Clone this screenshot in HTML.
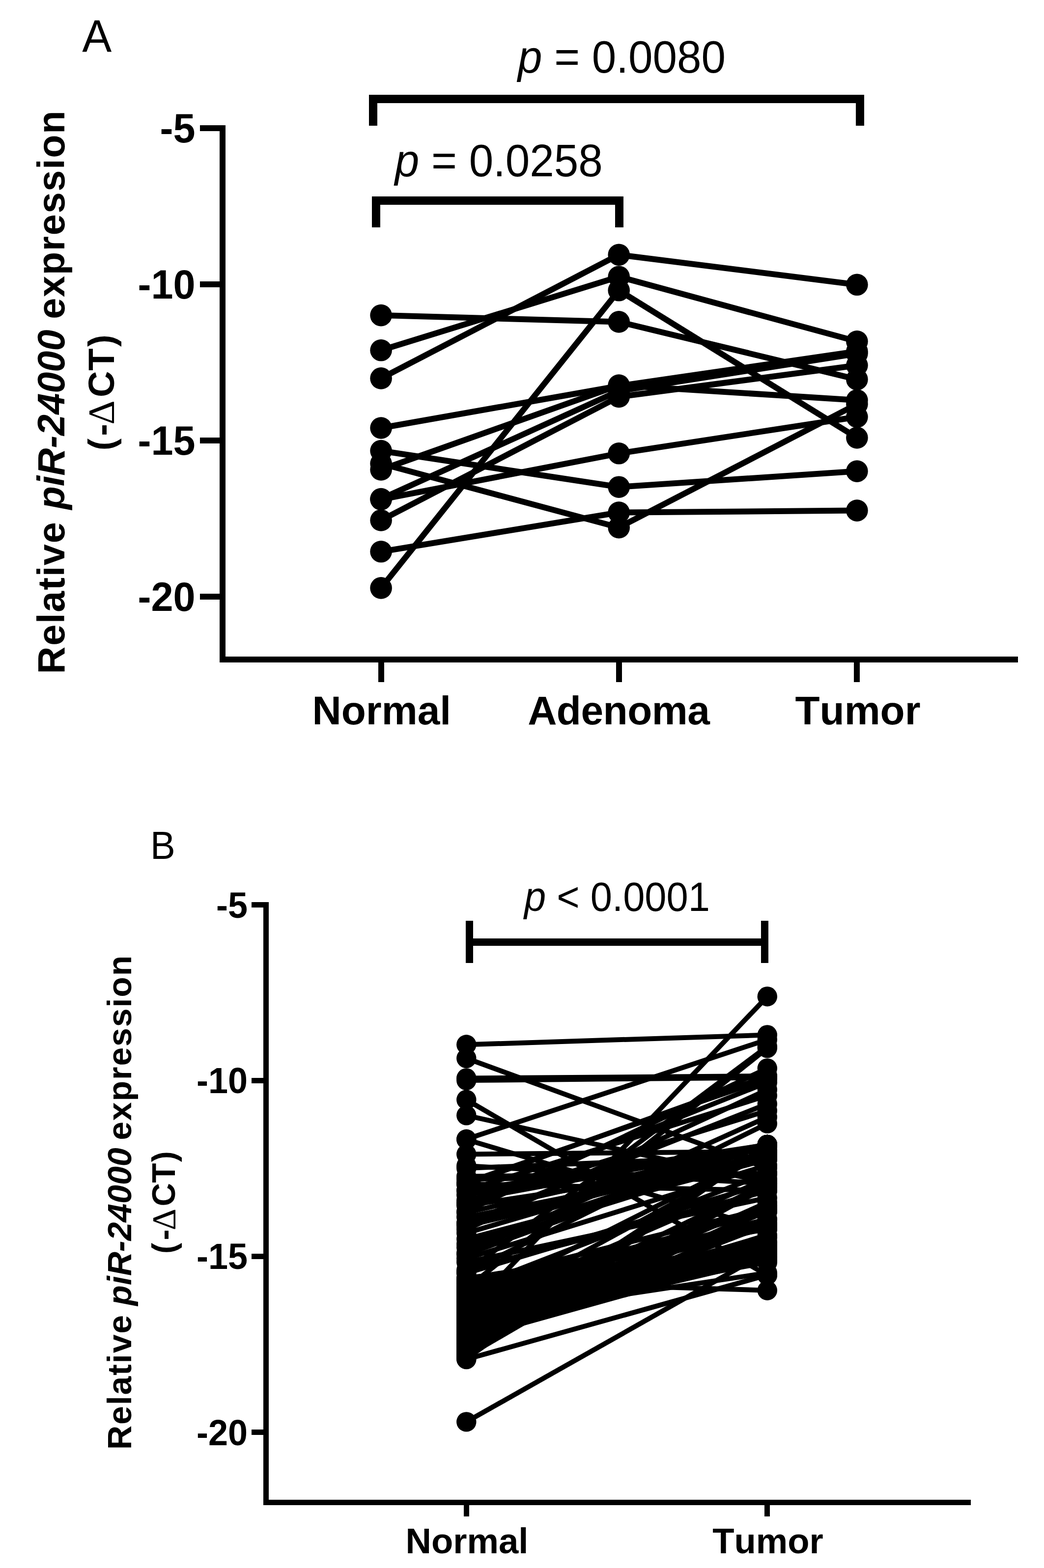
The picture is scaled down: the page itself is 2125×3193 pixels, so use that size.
<!DOCTYPE html>
<html lang="en">
<head>
<meta charset="utf-8">
<title>Relative piR-24000 expression</title>
<style>
html,body{margin:0;padding:0;background:#fff;}
body{width:2125px;height:3193px;overflow:hidden;}
svg{display:block;font-family:"Liberation Sans", Arial, Helvetica, sans-serif;fill:#000;font-kerning:none;font-variant-ligatures:none;}
</style>
</head>
<body>
<svg width="2125" height="3193" viewBox="0 0 2125 3193">
<rect x="0" y="0" width="2125" height="3193" fill="#fff"/>
<g id="panelA">
<rect x="447.00" y="255.00" width="12.00" height="1093.70" shape-rendering="crispEdges"/>
<rect x="447.00" y="1336.70" width="1625.00" height="12.00" shape-rendering="crispEdges"/>
<rect x="407.00" y="255.00" width="41.00" height="12.00" shape-rendering="crispEdges"/>
<rect x="407.00" y="573.00" width="41.00" height="12.00" shape-rendering="crispEdges"/>
<rect x="407.00" y="891.00" width="41.00" height="12.00" shape-rendering="crispEdges"/>
<rect x="407.00" y="1209.00" width="41.00" height="12.00" shape-rendering="crispEdges"/>
<rect x="770.00" y="1348.00" width="12.00" height="41.00" shape-rendering="crispEdges"/>
<rect x="1254.00" y="1348.00" width="12.00" height="41.00" shape-rendering="crispEdges"/>
<rect x="1738.00" y="1348.00" width="12.00" height="41.00" shape-rendering="crispEdges"/>
<text transform="translate(397.50,290.40) scale(1,1.04)" font-size="81" font-weight="bold" text-anchor="end">-5</text>
<text transform="translate(397.50,608.40) scale(1,1.04)" font-size="81" font-weight="bold" text-anchor="end">-10</text>
<text transform="translate(397.50,926.40) scale(1,1.04)" font-size="81" font-weight="bold" text-anchor="end">-15</text>
<text transform="translate(397.50,1244.40) scale(1,1.04)" font-size="81" font-weight="bold" text-anchor="end">-20</text>
<text x="776.80" y="1475.00" font-size="82" font-weight="bold" text-anchor="middle">Normal</text>
<text x="1259.20" y="1475.00" font-size="82" font-weight="bold" text-anchor="middle" letter-spacing="-0.5">Adenoma</text>
<text x="1746.00" y="1475.00" font-size="82" font-weight="bold" text-anchor="middle">Tumor</text>
<rect x="751.00" y="193.00" width="1008.00" height="17.00" shape-rendering="crispEdges"/>
<rect x="751.00" y="193.00" width="17.00" height="62.60" shape-rendering="crispEdges"/>
<rect x="1742.00" y="193.00" width="17.00" height="62.60" shape-rendering="crispEdges"/>
<rect x="757.00" y="400.00" width="512.00" height="17.00" shape-rendering="crispEdges"/>
<rect x="757.00" y="400.00" width="17.00" height="62.70" shape-rendering="crispEdges"/>
<rect x="1252.00" y="400.00" width="17.00" height="62.70" shape-rendering="crispEdges"/>
<text transform="translate(1477.00,147.50) scale(1,1.04)" font-size="89" font-weight="normal" text-anchor="end"><tspan font-style="italic">p</tspan> = 0.0080</text>
<text transform="translate(1226.80,359.00) scale(1,1.04)" font-size="89" font-weight="normal" text-anchor="end"><tspan font-style="italic">p</tspan> = 0.0258</text>
<text transform="translate(197.30,106.30) scale(1,1.04)" font-size="90" font-weight="normal" text-anchor="middle">A</text>
<g transform="translate(131,0) rotate(-90)" font-size="77.5" font-weight="bold">
<text x="-1372.38" y="0" letter-spacing="1.7">Relative</text>
<text x="-1037.60" y="0" font-style="italic">piR-24000</text>
<text x="-649.83" y="0" letter-spacing="1.7">expression</text>
</g>
<g transform="translate(232.2,0) rotate(-90)" font-size="74" font-weight="bold">
<text y="0"><tspan x="-917.49">(</tspan><tspan x="-887.79">-</tspan><tspan x="-864.73" font-family="'Liberation Serif', 'DejaVu Serif', serif" font-weight="normal" font-size="77">&#916;</tspan><tspan x="-808.94">C</tspan><tspan x="-754.83">T</tspan><tspan x="-705.97">)</tspan></text>
</g>
<g stroke="#000" stroke-width="12" fill="none" stroke-linecap="butt">
<polyline points="775.6,642.1 1259.7,655.4 1744.4,772.6"/>
<polyline points="775.6,713.3 1259.7,563.5 1744.4,695.3"/>
<polyline points="775.6,770.4 1259.7,518.8 1744.4,579.8"/>
<polyline points="775.6,871.5 1259.7,786.0 1744.4,715.5"/>
<polyline points="775.6,918.0 1259.7,991.7 1744.4,959.6"/>
<polyline points="775.6,944.0 1259.7,1074.2 1744.4,823.0"/>
<polyline points="775.6,956.5 1259.7,784.5 1744.4,815.0"/>
<polyline points="775.6,1016.0 1259.7,796.0 1744.4,720.0"/>
<polyline points="775.6,1017.0 1259.7,923.3 1744.4,849.0"/>
<polyline points="775.6,1059.5 1259.7,808.0 1744.4,744.0"/>
<polyline points="775.6,1123.3 1259.7,1043.6 1744.4,1039.6"/>
<polyline points="775.6,1197.4 1259.7,591.3 1744.4,891.4"/>
</g>
<circle cx="775.6" cy="642.1" r="22.3"/>
<circle cx="1259.7" cy="655.4" r="22.3"/>
<circle cx="1744.4" cy="772.6" r="22.3"/>
<circle cx="775.6" cy="713.3" r="22.3"/>
<circle cx="1259.7" cy="563.5" r="22.3"/>
<circle cx="1744.4" cy="695.3" r="22.3"/>
<circle cx="775.6" cy="770.4" r="22.3"/>
<circle cx="1259.7" cy="518.8" r="22.3"/>
<circle cx="1744.4" cy="579.8" r="22.3"/>
<circle cx="775.6" cy="871.5" r="22.3"/>
<circle cx="1259.7" cy="786.0" r="22.3"/>
<circle cx="1744.4" cy="715.5" r="22.3"/>
<circle cx="775.6" cy="918.0" r="22.3"/>
<circle cx="1259.7" cy="991.7" r="22.3"/>
<circle cx="1744.4" cy="959.6" r="22.3"/>
<circle cx="775.6" cy="944.0" r="22.3"/>
<circle cx="1259.7" cy="1074.2" r="22.3"/>
<circle cx="1744.4" cy="823.0" r="22.3"/>
<circle cx="775.6" cy="956.5" r="22.3"/>
<circle cx="1259.7" cy="784.5" r="22.3"/>
<circle cx="1744.4" cy="815.0" r="22.3"/>
<circle cx="775.6" cy="1016.0" r="22.3"/>
<circle cx="1259.7" cy="796.0" r="22.3"/>
<circle cx="1744.4" cy="720.0" r="22.3"/>
<circle cx="775.6" cy="1017.0" r="22.3"/>
<circle cx="1259.7" cy="923.3" r="22.3"/>
<circle cx="1744.4" cy="849.0" r="22.3"/>
<circle cx="775.6" cy="1059.5" r="22.3"/>
<circle cx="1259.7" cy="808.0" r="22.3"/>
<circle cx="1744.4" cy="744.0" r="22.3"/>
<circle cx="775.6" cy="1123.3" r="22.3"/>
<circle cx="1259.7" cy="1043.6" r="22.3"/>
<circle cx="1744.4" cy="1039.6" r="22.3"/>
<circle cx="775.6" cy="1197.4" r="22.3"/>
<circle cx="1259.7" cy="591.3" r="22.3"/>
<circle cx="1744.4" cy="891.4" r="22.3"/>
</g>
<g id="panelB">
<rect x="536.00" y="1837.00" width="11.00" height="1227.80" shape-rendering="crispEdges"/>
<rect x="536.00" y="3054.00" width="1440.00" height="10.80" shape-rendering="crispEdges"/>
<rect x="512.00" y="1837.00" width="25.00" height="11.00" shape-rendering="crispEdges"/>
<rect x="512.00" y="2194.90" width="25.00" height="11.00" shape-rendering="crispEdges"/>
<rect x="512.00" y="2552.90" width="25.00" height="11.00" shape-rendering="crispEdges"/>
<rect x="512.00" y="2911.00" width="25.00" height="11.00" shape-rendering="crispEdges"/>
<rect x="944.30" y="3064.00" width="10.60" height="23.80" shape-rendering="crispEdges"/>
<rect x="1556.30" y="3064.00" width="10.60" height="23.80" shape-rendering="crispEdges"/>
<text transform="translate(504.00,1868.50) scale(1,1.04)" font-size="72" font-weight="bold" text-anchor="end">-5</text>
<text transform="translate(504.00,2226.40) scale(1,1.04)" font-size="72" font-weight="bold" text-anchor="end">-10</text>
<text transform="translate(504.00,2584.40) scale(1,1.04)" font-size="72" font-weight="bold" text-anchor="end">-15</text>
<text transform="translate(504.00,2942.50) scale(1,1.04)" font-size="72" font-weight="bold" text-anchor="end">-20</text>
<text x="950.50" y="3163.00" font-size="72.5" font-weight="bold" text-anchor="middle">Normal</text>
<text x="1563.00" y="3163.00" font-size="72.5" font-weight="bold" text-anchor="middle">Tumor</text>
<rect x="948.00" y="1910.70" width="616.00" height="15.30" shape-rendering="crispEdges"/>
<rect x="948.00" y="1875.00" width="15.00" height="86.00" shape-rendering="crispEdges"/>
<rect x="1548.50" y="1875.00" width="15.50" height="86.00" shape-rendering="crispEdges"/>
<text transform="translate(1256.00,1855.40) scale(1,1.04)" font-size="79.5" font-weight="normal" text-anchor="middle"><tspan font-style="italic">p</tspan> &lt; 0.0001</text>
<text transform="translate(331.40,1748.50) scale(1,1.04)" font-size="76" font-weight="normal" text-anchor="middle">B</text>
<g transform="translate(266.6,0) rotate(-90)" font-size="68" font-weight="bold">
<text x="-2951.95" y="0" letter-spacing="1.9">Relative</text>
<text x="-2658.71" y="0" font-style="italic">piR-24000</text>
<text x="-2321.86" y="0" letter-spacing="1.9">expression</text>
</g>
<g transform="translate(355.7,0) rotate(-90)" font-size="66" font-weight="bold">
<text y="0"><tspan x="-2552.99">(</tspan><tspan x="-2525.58">-</tspan><tspan x="-2505.21" font-family="'Liberation Serif', 'DejaVu Serif', serif" font-weight="normal" font-size="68.5">&#916;</tspan><tspan x="-2456.41">C</tspan><tspan x="-2408.64">T</tspan><tspan x="-2366.36">)</tspan></text>
</g>
<g stroke="#000" stroke-width="10" fill="none">
<line x1="949.3" y1="2127.3" x2="1561.8" y2="2107.5"/>
<line x1="949.3" y1="2155" x2="1561.8" y2="2379"/>
<line x1="949.3" y1="2195.5" x2="1561.8" y2="2191"/>
<line x1="949.3" y1="2200" x2="1561.8" y2="2194.5"/>
<line x1="949.3" y1="2408" x2="1561.8" y2="2197"/>
<line x1="949.3" y1="2239.4" x2="1561.8" y2="2597"/>
<line x1="949.3" y1="2271.3" x2="1561.8" y2="2408"/>
<line x1="949.3" y1="2319.8" x2="1561.8" y2="2117"/>
<line x1="949.3" y1="2320.5" x2="1561.8" y2="2503"/>
<line x1="949.3" y1="2350.4" x2="1561.8" y2="2345"/>
<line x1="949.3" y1="2673" x2="1561.8" y2="2029.2"/>
<line x1="949.3" y1="2895.4" x2="1561.8" y2="2549"/>
<line x1="949.3" y1="2768" x2="1561.8" y2="2596.5"/>
<line x1="949.3" y1="2624" x2="1561.8" y2="2134.3"/>
<line x1="949.3" y1="2590" x2="1561.8" y2="2131"/>
<line x1="949.3" y1="2609" x2="1561.8" y2="2627.7"/>
<line x1="949.3" y1="2727" x2="1561.8" y2="2556"/>
<line x1="949.3" y1="2685" x2="1561.8" y2="2592"/>
<line x1="949.3" y1="2762" x2="1561.8" y2="2405"/>
<line x1="949.3" y1="2467.1" x2="1561.8" y2="2175.4"/>
<line x1="949.3" y1="2411.8" x2="1561.8" y2="2191.2"/>
<line x1="949.3" y1="2448.2" x2="1561.8" y2="2204.2"/>
<line x1="949.3" y1="2503.6" x2="1561.8" y2="2219.0"/>
<line x1="949.3" y1="2424.3" x2="1561.8" y2="2230.9"/>
<line x1="949.3" y1="2489.9" x2="1561.8" y2="2248.0"/>
<line x1="949.3" y1="2452.1" x2="1561.8" y2="2261.8"/>
<line x1="949.3" y1="2551.2" x2="1561.8" y2="2274.7"/>
<line x1="949.3" y1="2591.3" x2="1561.8" y2="2287.9"/>
<line x1="949.3" y1="2373.9" x2="1561.8" y2="2410.2"/>
<line x1="949.3" y1="2378.9" x2="1561.8" y2="2354.0"/>
<line x1="949.3" y1="2395.4" x2="1561.8" y2="2389.6"/>
<line x1="949.3" y1="2401.4" x2="1561.8" y2="2390.8"/>
<line x1="949.3" y1="2410.9" x2="1561.8" y2="2424.3"/>
<line x1="949.3" y1="2424.1" x2="1561.8" y2="2331"/>
<line x1="949.3" y1="2433.4" x2="1561.8" y2="2331"/>
<line x1="949.3" y1="2444.0" x2="1561.8" y2="2331"/>
<line x1="949.3" y1="2455.1" x2="1561.8" y2="2361.4"/>
<line x1="949.3" y1="2469.2" x2="1561.8" y2="2331"/>
<line x1="949.3" y1="2478.6" x2="1561.8" y2="2357.0"/>
<line x1="949.3" y1="2491.5" x2="1561.8" y2="2331"/>
<line x1="949.3" y1="2496.5" x2="1561.8" y2="2350.0"/>
<line x1="949.3" y1="2511.0" x2="1561.8" y2="2331"/>
<line x1="949.3" y1="2523.0" x2="1561.8" y2="2361.3"/>
<line x1="949.3" y1="2533.0" x2="1561.8" y2="2331"/>
<line x1="949.3" y1="2540.2" x2="1561.8" y2="2350.4"/>
<line x1="949.3" y1="2554.6" x2="1561.8" y2="2331"/>
<line x1="949.3" y1="2562.8" x2="1561.8" y2="2372.7"/>
<line x1="949.3" y1="2570.4" x2="1561.8" y2="2439.2"/>
<line x1="949.3" y1="2585.9" x2="1561.8" y2="2425.5"/>
<line x1="949.3" y1="2592.6" x2="1561.8" y2="2409.3"/>
<line x1="949.3" y1="2601.7" x2="1561.8" y2="2547.0"/>
<line x1="949.3" y1="2603.9" x2="1561.8" y2="2503.3"/>
<line x1="949.3" y1="2606.8" x2="1561.8" y2="2542.9"/>
<line x1="949.3" y1="2609.5" x2="1561.8" y2="2558.3"/>
<line x1="949.3" y1="2612.2" x2="1561.8" y2="2459.9"/>
<line x1="949.3" y1="2614.2" x2="1561.8" y2="2545.9"/>
<line x1="949.3" y1="2618.4" x2="1561.8" y2="2492.5"/>
<line x1="949.3" y1="2620.1" x2="1561.8" y2="2567.2"/>
<line x1="949.3" y1="2623.0" x2="1561.8" y2="2534.7"/>
<line x1="949.3" y1="2626.2" x2="1561.8" y2="2388.5"/>
<line x1="949.3" y1="2629.0" x2="1561.8" y2="2564.7"/>
<line x1="949.3" y1="2631.2" x2="1561.8" y2="2467.3"/>
<line x1="949.3" y1="2634.0" x2="1561.8" y2="2555.6"/>
<line x1="949.3" y1="2636.2" x2="1561.8" y2="2552.1"/>
<line x1="949.3" y1="2640.0" x2="1561.8" y2="2463.2"/>
<line x1="949.3" y1="2642.5" x2="1561.8" y2="2541.2"/>
<line x1="949.3" y1="2645.3" x2="1561.8" y2="2482.2"/>
<line x1="949.3" y1="2647.9" x2="1561.8" y2="2553.3"/>
<line x1="949.3" y1="2650.2" x2="1561.8" y2="2557.0"/>
<line x1="949.3" y1="2652.1" x2="1561.8" y2="2342.2"/>
<line x1="949.3" y1="2655.7" x2="1561.8" y2="2566.0"/>
<line x1="949.3" y1="2658.3" x2="1561.8" y2="2500.1"/>
<line x1="949.3" y1="2660.7" x2="1561.8" y2="2560.2"/>
<line x1="949.3" y1="2663.7" x2="1561.8" y2="2549.1"/>
<line x1="949.3" y1="2666.6" x2="1561.8" y2="2399.9"/>
<line x1="949.3" y1="2668.3" x2="1561.8" y2="2564.8"/>
<line x1="949.3" y1="2671.3" x2="1561.8" y2="2493.1"/>
<line x1="949.3" y1="2675.1" x2="1561.8" y2="2542.1"/>
<line x1="949.3" y1="2677.7" x2="1561.8" y2="2541.3"/>
<line x1="949.3" y1="2679.5" x2="1561.8" y2="2346.2"/>
<line x1="949.3" y1="2682.9" x2="1561.8" y2="2570.7"/>
<line x1="949.3" y1="2684.6" x2="1561.8" y2="2533.0"/>
<line x1="949.3" y1="2688.5" x2="1561.8" y2="2564.0"/>
<line x1="949.3" y1="2690.1" x2="1561.8" y2="2549.0"/>
<line x1="949.3" y1="2693.2" x2="1561.8" y2="2454.3"/>
<line x1="949.3" y1="2695.6" x2="1561.8" y2="2552.9"/>
<line x1="949.3" y1="2698.4" x2="1561.8" y2="2514.9"/>
<line x1="949.3" y1="2702.0" x2="1561.8" y2="2555.8"/>
<line x1="949.3" y1="2704.0" x2="1561.8" y2="2555.0"/>
<line x1="949.3" y1="2706.3" x2="1561.8" y2="2409.9"/>
<line x1="949.3" y1="2709.6" x2="1561.8" y2="2565.5"/>
<line x1="949.3" y1="2711.8" x2="1561.8" y2="2467.0"/>
<line x1="949.3" y1="2715.2" x2="1561.8" y2="2557.6"/>
<line x1="949.3" y1="2718.0" x2="1561.8" y2="2530.3"/>
<line x1="949.3" y1="2719.8" x2="1561.8" y2="2448.5"/>
<line x1="949.3" y1="2722.7" x2="1561.8" y2="2529.2"/>
<line x1="949.3" y1="2725.4" x2="1561.8" y2="2465.7"/>
<line x1="949.3" y1="2729.0" x2="1561.8" y2="2520.2"/>
<line x1="949.3" y1="2731.0" x2="1561.8" y2="2494.0"/>
<line x1="949.3" y1="2734.6" x2="1561.8" y2="2334.7"/>
<line x1="949.3" y1="2736.4" x2="1561.8" y2="2484.1"/>
<line x1="949.3" y1="2739.4" x2="1561.8" y2="2416.7"/>
<line x1="949.3" y1="2742.0" x2="1561.8" y2="2459.8"/>
<line x1="949.3" y1="2744.3" x2="1561.8" y2="2463.1"/>
<line x1="949.3" y1="2748.4" x2="1561.8" y2="2331"/>
<line x1="949.3" y1="2750.1" x2="1561.8" y2="2415.7"/>
<line x1="949.3" y1="2752.8" x2="1561.8" y2="2332.2"/>
<line x1="949.3" y1="2756.2" x2="1561.8" y2="2407.4"/>
<line x1="949.3" y1="2758.1" x2="1561.8" y2="2414.7"/>
<line x1="949.3" y1="2761.8" x2="1561.8" y2="2331"/>
<line x1="949.3" y1="2764.5" x2="1561.8" y2="2331"/>
<line x1="949.3" y1="2766.8" x2="1561.8" y2="2331"/>
</g>
<circle cx="949.3" cy="2127.3" r="20.2"/><circle cx="1561.8" cy="2107.5" r="20.2"/>
<circle cx="949.3" cy="2155" r="20.2"/><circle cx="1561.8" cy="2379" r="20.2"/>
<circle cx="949.3" cy="2195.5" r="20.2"/><circle cx="1561.8" cy="2191" r="20.2"/>
<circle cx="949.3" cy="2200" r="20.2"/><circle cx="1561.8" cy="2194.5" r="20.2"/>
<circle cx="949.3" cy="2408" r="20.2"/><circle cx="1561.8" cy="2197" r="20.2"/>
<circle cx="949.3" cy="2239.4" r="20.2"/><circle cx="1561.8" cy="2597" r="20.2"/>
<circle cx="949.3" cy="2271.3" r="20.2"/><circle cx="1561.8" cy="2408" r="20.2"/>
<circle cx="949.3" cy="2319.8" r="20.2"/><circle cx="1561.8" cy="2117" r="20.2"/>
<circle cx="949.3" cy="2320.5" r="20.2"/><circle cx="1561.8" cy="2503" r="20.2"/>
<circle cx="949.3" cy="2350.4" r="20.2"/><circle cx="1561.8" cy="2345" r="20.2"/>
<circle cx="949.3" cy="2673" r="20.2"/><circle cx="1561.8" cy="2029.2" r="20.2"/>
<circle cx="949.3" cy="2895.4" r="20.2"/><circle cx="1561.8" cy="2549" r="20.2"/>
<circle cx="949.3" cy="2768" r="20.2"/><circle cx="1561.8" cy="2596.5" r="20.2"/>
<circle cx="949.3" cy="2624" r="20.2"/><circle cx="1561.8" cy="2134.3" r="20.2"/>
<circle cx="949.3" cy="2590" r="20.2"/><circle cx="1561.8" cy="2131" r="20.2"/>
<circle cx="949.3" cy="2609" r="20.2"/><circle cx="1561.8" cy="2627.7" r="20.2"/>
<circle cx="949.3" cy="2727" r="20.2"/><circle cx="1561.8" cy="2556" r="20.2"/>
<circle cx="949.3" cy="2685" r="20.2"/><circle cx="1561.8" cy="2592" r="20.2"/>
<circle cx="949.3" cy="2762" r="20.2"/><circle cx="1561.8" cy="2405" r="20.2"/>
<circle cx="949.3" cy="2467.1" r="20.2"/><circle cx="1561.8" cy="2175.4" r="20.2"/>
<circle cx="949.3" cy="2411.8" r="20.2"/><circle cx="1561.8" cy="2191.2" r="20.2"/>
<circle cx="949.3" cy="2448.2" r="20.2"/><circle cx="1561.8" cy="2204.2" r="20.2"/>
<circle cx="949.3" cy="2503.6" r="20.2"/><circle cx="1561.8" cy="2219.0" r="20.2"/>
<circle cx="949.3" cy="2424.3" r="20.2"/><circle cx="1561.8" cy="2230.9" r="20.2"/>
<circle cx="949.3" cy="2489.9" r="20.2"/><circle cx="1561.8" cy="2248.0" r="20.2"/>
<circle cx="949.3" cy="2452.1" r="20.2"/><circle cx="1561.8" cy="2261.8" r="20.2"/>
<circle cx="949.3" cy="2551.2" r="20.2"/><circle cx="1561.8" cy="2274.7" r="20.2"/>
<circle cx="949.3" cy="2591.3" r="20.2"/><circle cx="1561.8" cy="2287.9" r="20.2"/>
<circle cx="949.3" cy="2373.9" r="20.2"/><circle cx="1561.8" cy="2410.2" r="20.2"/>
<circle cx="949.3" cy="2378.9" r="20.2"/><circle cx="1561.8" cy="2354.0" r="20.2"/>
<circle cx="949.3" cy="2395.4" r="20.2"/><circle cx="1561.8" cy="2389.6" r="20.2"/>
<circle cx="949.3" cy="2401.4" r="20.2"/><circle cx="1561.8" cy="2390.8" r="20.2"/>
<circle cx="949.3" cy="2410.9" r="20.2"/><circle cx="1561.8" cy="2424.3" r="20.2"/>
<circle cx="949.3" cy="2424.1" r="20.2"/><circle cx="1561.8" cy="2331" r="20.2"/>
<circle cx="949.3" cy="2433.4" r="20.2"/><circle cx="1561.8" cy="2331" r="20.2"/>
<circle cx="949.3" cy="2444.0" r="20.2"/><circle cx="1561.8" cy="2331" r="20.2"/>
<circle cx="949.3" cy="2455.1" r="20.2"/><circle cx="1561.8" cy="2361.4" r="20.2"/>
<circle cx="949.3" cy="2469.2" r="20.2"/><circle cx="1561.8" cy="2331" r="20.2"/>
<circle cx="949.3" cy="2478.6" r="20.2"/><circle cx="1561.8" cy="2357.0" r="20.2"/>
<circle cx="949.3" cy="2491.5" r="20.2"/><circle cx="1561.8" cy="2331" r="20.2"/>
<circle cx="949.3" cy="2496.5" r="20.2"/><circle cx="1561.8" cy="2350.0" r="20.2"/>
<circle cx="949.3" cy="2511.0" r="20.2"/><circle cx="1561.8" cy="2331" r="20.2"/>
<circle cx="949.3" cy="2523.0" r="20.2"/><circle cx="1561.8" cy="2361.3" r="20.2"/>
<circle cx="949.3" cy="2533.0" r="20.2"/><circle cx="1561.8" cy="2331" r="20.2"/>
<circle cx="949.3" cy="2540.2" r="20.2"/><circle cx="1561.8" cy="2350.4" r="20.2"/>
<circle cx="949.3" cy="2554.6" r="20.2"/><circle cx="1561.8" cy="2331" r="20.2"/>
<circle cx="949.3" cy="2562.8" r="20.2"/><circle cx="1561.8" cy="2372.7" r="20.2"/>
<circle cx="949.3" cy="2570.4" r="20.2"/><circle cx="1561.8" cy="2439.2" r="20.2"/>
<circle cx="949.3" cy="2585.9" r="20.2"/><circle cx="1561.8" cy="2425.5" r="20.2"/>
<circle cx="949.3" cy="2592.6" r="20.2"/><circle cx="1561.8" cy="2409.3" r="20.2"/>
<circle cx="949.3" cy="2601.7" r="20.2"/><circle cx="1561.8" cy="2547.0" r="20.2"/>
<circle cx="949.3" cy="2603.9" r="20.2"/><circle cx="1561.8" cy="2503.3" r="20.2"/>
<circle cx="949.3" cy="2606.8" r="20.2"/><circle cx="1561.8" cy="2542.9" r="20.2"/>
<circle cx="949.3" cy="2609.5" r="20.2"/><circle cx="1561.8" cy="2558.3" r="20.2"/>
<circle cx="949.3" cy="2612.2" r="20.2"/><circle cx="1561.8" cy="2459.9" r="20.2"/>
<circle cx="949.3" cy="2614.2" r="20.2"/><circle cx="1561.8" cy="2545.9" r="20.2"/>
<circle cx="949.3" cy="2618.4" r="20.2"/><circle cx="1561.8" cy="2492.5" r="20.2"/>
<circle cx="949.3" cy="2620.1" r="20.2"/><circle cx="1561.8" cy="2567.2" r="20.2"/>
<circle cx="949.3" cy="2623.0" r="20.2"/><circle cx="1561.8" cy="2534.7" r="20.2"/>
<circle cx="949.3" cy="2626.2" r="20.2"/><circle cx="1561.8" cy="2388.5" r="20.2"/>
<circle cx="949.3" cy="2629.0" r="20.2"/><circle cx="1561.8" cy="2564.7" r="20.2"/>
<circle cx="949.3" cy="2631.2" r="20.2"/><circle cx="1561.8" cy="2467.3" r="20.2"/>
<circle cx="949.3" cy="2634.0" r="20.2"/><circle cx="1561.8" cy="2555.6" r="20.2"/>
<circle cx="949.3" cy="2636.2" r="20.2"/><circle cx="1561.8" cy="2552.1" r="20.2"/>
<circle cx="949.3" cy="2640.0" r="20.2"/><circle cx="1561.8" cy="2463.2" r="20.2"/>
<circle cx="949.3" cy="2642.5" r="20.2"/><circle cx="1561.8" cy="2541.2" r="20.2"/>
<circle cx="949.3" cy="2645.3" r="20.2"/><circle cx="1561.8" cy="2482.2" r="20.2"/>
<circle cx="949.3" cy="2647.9" r="20.2"/><circle cx="1561.8" cy="2553.3" r="20.2"/>
<circle cx="949.3" cy="2650.2" r="20.2"/><circle cx="1561.8" cy="2557.0" r="20.2"/>
<circle cx="949.3" cy="2652.1" r="20.2"/><circle cx="1561.8" cy="2342.2" r="20.2"/>
<circle cx="949.3" cy="2655.7" r="20.2"/><circle cx="1561.8" cy="2566.0" r="20.2"/>
<circle cx="949.3" cy="2658.3" r="20.2"/><circle cx="1561.8" cy="2500.1" r="20.2"/>
<circle cx="949.3" cy="2660.7" r="20.2"/><circle cx="1561.8" cy="2560.2" r="20.2"/>
<circle cx="949.3" cy="2663.7" r="20.2"/><circle cx="1561.8" cy="2549.1" r="20.2"/>
<circle cx="949.3" cy="2666.6" r="20.2"/><circle cx="1561.8" cy="2399.9" r="20.2"/>
<circle cx="949.3" cy="2668.3" r="20.2"/><circle cx="1561.8" cy="2564.8" r="20.2"/>
<circle cx="949.3" cy="2671.3" r="20.2"/><circle cx="1561.8" cy="2493.1" r="20.2"/>
<circle cx="949.3" cy="2675.1" r="20.2"/><circle cx="1561.8" cy="2542.1" r="20.2"/>
<circle cx="949.3" cy="2677.7" r="20.2"/><circle cx="1561.8" cy="2541.3" r="20.2"/>
<circle cx="949.3" cy="2679.5" r="20.2"/><circle cx="1561.8" cy="2346.2" r="20.2"/>
<circle cx="949.3" cy="2682.9" r="20.2"/><circle cx="1561.8" cy="2570.7" r="20.2"/>
<circle cx="949.3" cy="2684.6" r="20.2"/><circle cx="1561.8" cy="2533.0" r="20.2"/>
<circle cx="949.3" cy="2688.5" r="20.2"/><circle cx="1561.8" cy="2564.0" r="20.2"/>
<circle cx="949.3" cy="2690.1" r="20.2"/><circle cx="1561.8" cy="2549.0" r="20.2"/>
<circle cx="949.3" cy="2693.2" r="20.2"/><circle cx="1561.8" cy="2454.3" r="20.2"/>
<circle cx="949.3" cy="2695.6" r="20.2"/><circle cx="1561.8" cy="2552.9" r="20.2"/>
<circle cx="949.3" cy="2698.4" r="20.2"/><circle cx="1561.8" cy="2514.9" r="20.2"/>
<circle cx="949.3" cy="2702.0" r="20.2"/><circle cx="1561.8" cy="2555.8" r="20.2"/>
<circle cx="949.3" cy="2704.0" r="20.2"/><circle cx="1561.8" cy="2555.0" r="20.2"/>
<circle cx="949.3" cy="2706.3" r="20.2"/><circle cx="1561.8" cy="2409.9" r="20.2"/>
<circle cx="949.3" cy="2709.6" r="20.2"/><circle cx="1561.8" cy="2565.5" r="20.2"/>
<circle cx="949.3" cy="2711.8" r="20.2"/><circle cx="1561.8" cy="2467.0" r="20.2"/>
<circle cx="949.3" cy="2715.2" r="20.2"/><circle cx="1561.8" cy="2557.6" r="20.2"/>
<circle cx="949.3" cy="2718.0" r="20.2"/><circle cx="1561.8" cy="2530.3" r="20.2"/>
<circle cx="949.3" cy="2719.8" r="20.2"/><circle cx="1561.8" cy="2448.5" r="20.2"/>
<circle cx="949.3" cy="2722.7" r="20.2"/><circle cx="1561.8" cy="2529.2" r="20.2"/>
<circle cx="949.3" cy="2725.4" r="20.2"/><circle cx="1561.8" cy="2465.7" r="20.2"/>
<circle cx="949.3" cy="2729.0" r="20.2"/><circle cx="1561.8" cy="2520.2" r="20.2"/>
<circle cx="949.3" cy="2731.0" r="20.2"/><circle cx="1561.8" cy="2494.0" r="20.2"/>
<circle cx="949.3" cy="2734.6" r="20.2"/><circle cx="1561.8" cy="2334.7" r="20.2"/>
<circle cx="949.3" cy="2736.4" r="20.2"/><circle cx="1561.8" cy="2484.1" r="20.2"/>
<circle cx="949.3" cy="2739.4" r="20.2"/><circle cx="1561.8" cy="2416.7" r="20.2"/>
<circle cx="949.3" cy="2742.0" r="20.2"/><circle cx="1561.8" cy="2459.8" r="20.2"/>
<circle cx="949.3" cy="2744.3" r="20.2"/><circle cx="1561.8" cy="2463.1" r="20.2"/>
<circle cx="949.3" cy="2748.4" r="20.2"/><circle cx="1561.8" cy="2331" r="20.2"/>
<circle cx="949.3" cy="2750.1" r="20.2"/><circle cx="1561.8" cy="2415.7" r="20.2"/>
<circle cx="949.3" cy="2752.8" r="20.2"/><circle cx="1561.8" cy="2332.2" r="20.2"/>
<circle cx="949.3" cy="2756.2" r="20.2"/><circle cx="1561.8" cy="2407.4" r="20.2"/>
<circle cx="949.3" cy="2758.1" r="20.2"/><circle cx="1561.8" cy="2414.7" r="20.2"/>
<circle cx="949.3" cy="2761.8" r="20.2"/><circle cx="1561.8" cy="2331" r="20.2"/>
<circle cx="949.3" cy="2764.5" r="20.2"/><circle cx="1561.8" cy="2331" r="20.2"/>
<circle cx="949.3" cy="2766.8" r="20.2"/><circle cx="1561.8" cy="2331" r="20.2"/>
</g>
</svg>
</body>
</html>
